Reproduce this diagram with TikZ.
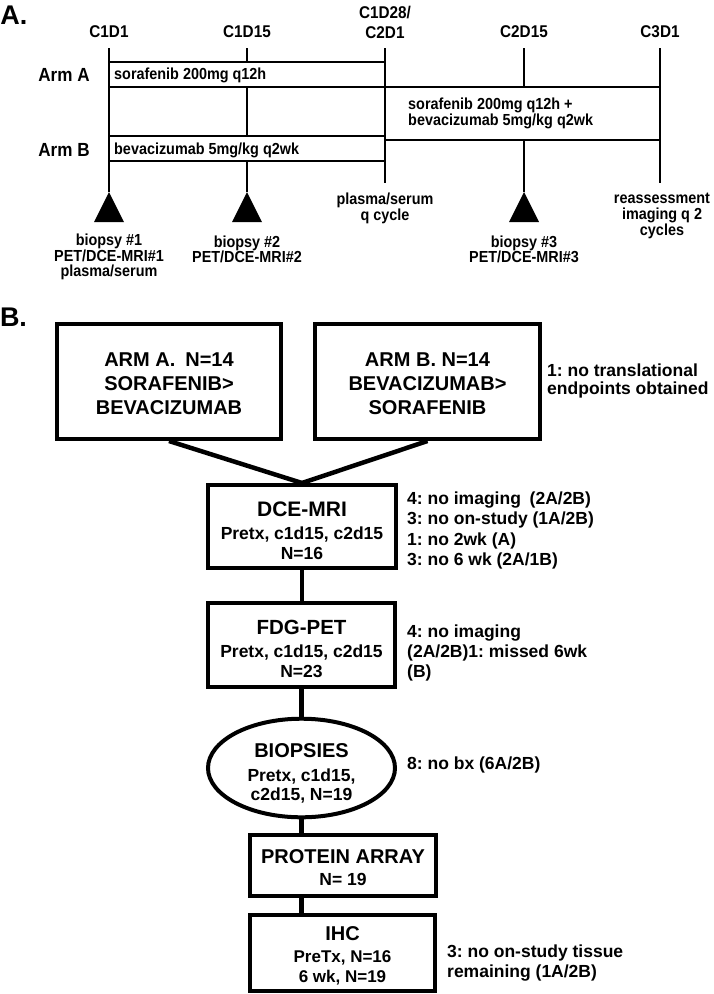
\documentclass[tikz,border=0pt]{standalone}
\usepackage{fontspec}
\setmainfont{Liberation Sans}
\newfontfamily\narf[FakeStretch=0.9]{Liberation Sans}
\usetikzlibrary{shapes.geometric}
\frenchspacing
\newcommand\mystrut[1]{\rule{0pt}{#1}}
\begin{document}
\begin{tikzpicture}[x=1pt,y=-1pt,
  lab/.style={font=\narf\fontsize{17}{20}\selectfont\bfseries, inner sep=0, align=center},
  arm/.style={font=\narf\fontsize{19}{20}\selectfont\bfseries, inner sep=0},
  dose/.style={draw, line width=2.4pt, fill=white, inner sep=0, minimum width=276pt, minimum height=25pt},
  dosetxt/.style={font=\narf\fontsize{16}{16}\selectfont\bfseries, inner sep=0, align=left, anchor=west},
  tick/.style={line width=2pt},
  ev/.style={font=\narf\fontsize{16}{15.5}\selectfont\bfseries, inner sep=0, align=center},
  panel/.style={font=\fontsize{27}{28}\selectfont\bfseries, inner sep=0},
  fbox/.style={draw, line width=4pt, fill=white, inner sep=0, align=center, rectangle},
  note/.style={font=\fontsize{17.5}{20.3}\selectfont\bfseries, inner sep=0, align=left, anchor=west},
  conn/.style={line width=4.5pt}
]
\useasboundingbox (0,0) rectangle (714,994);
\fill[white] (0,0) rectangle (714,994);

% ---------------- Panel A ----------------
\node[panel] (pA) at (14,15) {A.};
\node[lab] (l1) at (109,32) {C1D1};
\node[lab] (l2) at (247,32) {C1D15};
\node[lab] (l3) at (385,22) {C1D28/\\C2D1};
\node[lab] (l4) at (524,32) {C2D15};
\node[lab] (l5) at (660,32) {C3D1};

\coordinate (t1) at (109,48);  \coordinate (e1) at (109,192);
\coordinate (t2) at (247,48);  \coordinate (e2) at (247,192);
\coordinate (t3) at (385,48);  \coordinate (e3) at (385,183);
\coordinate (t4) at (524,48);  \coordinate (e4) at (524,192);
\coordinate (t5) at (660,48);  \coordinate (e5) at (660,183);
\foreach \i in {1,...,5} {\draw[tick] (t\i) -- (e\i);}

\node[dose] (bA) at (247,74.5) {};
\node[dose, minimum width=275pt, minimum height=53pt] (bC) at (522.5,113.5) {};
\node[dose] (bB) at (247,148.5) {};
\node[dosetxt] (tA) at (114,75) {sorafenib 200mg q12h};
\node[dosetxt] (tC) at (408,113.5) {sorafenib 200mg q12h +\\bevacizumab 5mg/kg q2wk};
\node[dosetxt] (tB) at (114,150) {bevacizumab 5mg/kg q2wk};

\node[arm] (aA) at (64,75) {Arm A};
\node[arm] (aB) at (64,150) {Arm B};

\foreach \x/\n in {109/1,247/2,524/3} {
  \fill (\x,192) -- (\x-15,222) -- (\x+15,222) -- cycle;
}

\node[ev] (v1) at (109,257) {biopsy \#1\\PET/DCE-MRI\#1\\plasma/serum};
\node[ev] (v2) at (247,249.5) {biopsy \#2\\PET/DCE-MRI\#2};
\node[ev, font=\narf\fontsize{16}{16.5}\selectfont\bfseries] (v3) at (385,208.5) {plasma/serum\\q cycle};
\node[ev] (v4) at (524,249.5) {biopsy \#3\\PET/DCE-MRI\#3};
\node[ev, font=\narf\fontsize{16}{16}\selectfont\bfseries] (v5) at (662,216) {reassessment\\imaging q 2\\cycles};

% ---------------- Panel B ----------------
\node[panel] (pB) at (13.5,317.5) {B.};

\node[fbox, minimum width=224pt, minimum height=115pt, font=\fontsize{20}{24}\selectfont\bfseries] (armA) at (169,381.5) {\mystrut{18pt}ARM A.\enspace N=14\\SORAFENIB>\\BEVACIZUMAB};
\node[fbox, minimum width=225pt, minimum height=115pt, font=\fontsize{20}{24}\selectfont\bfseries] (armB) at (427.5,381.5) {\mystrut{18pt}ARM B. N=14\\BEVACIZUMAB>\\SORAFENIB};
\node[note, font=\fontsize{17.5}{18}\selectfont\bfseries] (nB) at (547,380.5) {1: no translational\\endpoints obtained};

\node[fbox, minimum width=188pt, minimum height=83pt, font=\fontsize{17.5}{20}\selectfont\bfseries] (dce) at (302,526.5) {{\fontsize{21}{20}\selectfont\mystrut{24pt}DCE-MRI}\\[3pt]Pretx, c1d15, c2d15\\N=16};
\node[note] (nD) at (407,530.5) {4: no imaging\enspace (2A/2B)\\3: no on-study (1A/2B)\\1: no 2wk (A)\\3: no 6 wk (2A/1B)};

\node[fbox, minimum width=187pt, minimum height=84pt, font=\fontsize{17.5}{20}\selectfont\bfseries] (fdg) at (301.5,645) {{\fontsize{20.5}{20}\selectfont\mystrut{23pt}FDG-PET}\\[3pt]Pretx, c1d15, c2d15\\N=23};
\node[note] (nF) at (407,653) {4: no imaging\\(2A/2B)1: missed 6wk\\(B)};

\node[draw, ellipse, line width=4pt, fill=white, inner sep=0, minimum width=187pt, minimum height=98pt, align=center, font=\fontsize{17.5}{19}\selectfont\bfseries] (bio) at (301.5,768) {{\fontsize{20}{19}\selectfont\mystrut{24pt}BIOPSIES}\\[5pt]Pretx, c1d15,\\c2d15, N=19};
\node[note] (nBio) at (407,765) {8: no bx (6A/2B)};

\node[fbox, minimum width=186pt, minimum height=61pt, font=\fontsize{17.5}{22}\selectfont\bfseries] (prot) at (343,865.5) {{\fontsize{20}{22}\selectfont\mystrut{19pt}PROTEIN ARRAY}\\N= 19};

\node[fbox, minimum width=185pt, minimum height=76pt, font=\fontsize{17}{20}\selectfont\bfseries] (ihc) at (342.5,953) {{\fontsize{20}{20}\selectfont\mystrut{20pt}IHC}\\[2pt]PreTx, N=16\\6 wk, N=19};
\node[note, font=\fontsize{17.5}{20}\selectfont\bfseries] (nI) at (447,963) {3: no on-study tissue\\remaining (1A/2B)};

\draw[conn] (armA.south) -- (dce.north);
\draw[conn] (armB.south) -- (dce.north);
\draw[conn] (dce.south) -- (dce.south |- fdg.north);
\draw[conn] (fdg.south) -- (fdg.south |- bio.north);
\draw[conn] (bio.south) -- (bio.south |- prot.north);
\draw[conn] (bio.south |- prot.south) -- (bio.south |- ihc.north);
\end{tikzpicture}
\end{document}
